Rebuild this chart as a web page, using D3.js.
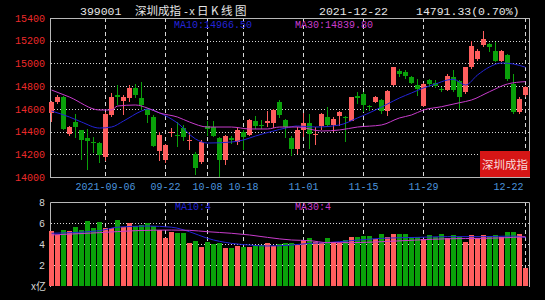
<!DOCTYPE html>
<html>
<head>
<meta charset="utf-8">
<script src="https://cdn.jsdelivr.net/npm/d3@7"></script>
<style>
  body { margin: 0; background: #000; }
  svg { display: block; }
  text { font-family: "Liberation Mono", "DejaVu Sans Mono", monospace; }
  .cjk { font-family: "Noto Sans CJK SC", sans-serif; }
</style>
</head>
<body>
<svg id="kline" width="545" height="300"></svg>
<script>
// daily candles, 2021-08-24 .. 2021-12-22 (index 0..79)
const opens = [14562,14658,14701,14382,14484,14411,14339,14310,14301,14180,
  14546,14721,14672,14692,14780,14692,14596,14531,14225,14146,
  14390,14371,14430,14320,14199,14131,14450,14438,14345,14146,
  14340,14307,14395,14366,14497,14460,14474,14474,14658,14503,
  14345,14248,14415,14474,14370,14453,14527,14462,14533,14527,
  14497,14710,14731,14625,14658,14679,14579,14806,14936,14922,
  14884,14810,14629,14855,14830,14775,14767,14878,14849,14746,
  14966,15039,15165,15170,15112,15024,15077,14819,14570,14726];
const highs = [14672,14725,14716,14446,14551,14418,14426,14353,14310,14571,
  14736,14809,14721,14809,14823,14838,14604,14546,14400,14292,
  14429,14480,14462,14395,14219,14322,14491,14491,14351,14366,
  14360,14438,14410,14512,14541,14503,14585,14600,14679,14512,
  14357,14438,14562,14556,14438,14562,14615,14527,14585,14533,
  14708,14746,14746,14638,14717,14687,14767,14972,14951,14942,
  14893,14863,14825,14863,14850,14790,14907,14942,14855,14972,
  15200,15127,15288,15179,15185,15118,15083,14907,14702,14797];
const lows = [14484,14643,14417,14362,14339,14150,14064,14209,14122,14145,
  14531,14634,14546,14663,14692,14590,14473,14263,14137,14123,
  14356,14260,14316,14234,14014,14117,14357,14351,14000,14102,
  14290,14278,14234,14357,14424,14420,14438,14430,14521,14345,
  14181,14199,14351,14248,14278,14410,14439,14395,14453,14307,
  14491,14644,14570,14585,14650,14556,14541,14797,14878,14863,
  14819,14709,14620,14790,14780,14750,14761,14746,14600,14732,
  14951,15024,15141,15097,15009,15009,14849,14556,14556,14708];
const closes = [14664,14707,14426,14440,14440,14324,14319,14300,14194,14556,
  14707,14706,14707,14780,14721,14634,14546,14269,14371,14283,
  14400,14360,14350,14330,14081,14307,14424,14365,14146,14357,
  14325,14415,14351,14503,14453,14445,14497,14594,14550,14439,
  14248,14415,14474,14380,14380,14556,14462,14512,14570,14520,
  14702,14700,14638,14615,14708,14579,14755,14966,14907,14893,
  14825,14775,14819,14819,14800,14766,14893,14767,14702,14966,
  15156,15112,15215,15147,15024,15112,14863,14570,14687,14791];
// volume, 亿
const volumes = [5.24,4.86,5.33,5.24,5.65,5.33,6.19,5.49,6.10,5.56,
  5.49,6.29,5.65,5.97,5.71,5.81,5.97,5.75,5.33,4.54,
  5.17,5.08,5.08,4.06,4.32,3.75,4.22,4.00,4.06,3.59,
  3.59,3.81,3.75,3.68,3.90,3.90,4.06,3.81,4.00,4.13,
  4.06,3.90,4.38,4.60,4.22,4.06,4.60,4.22,4.06,4.38,
  4.70,4.70,4.79,4.79,4.44,4.95,4.63,4.95,4.92,4.92,
  4.70,4.63,4.44,4.86,4.70,4.95,4.60,4.86,4.70,4.22,
  4.86,4.54,4.86,4.76,4.86,4.70,5.17,5.17,4.95,1.68];

// moving averages (candle index, value)
const ma10Idx = [0,3,5,8,10,12,15,16,18,21,24,26,30,32,34,37,39,41,44,48,51,54,56,58,60,62,64,66,67,69,71,73,75,77,79];
const ma10Val = [14581,14528,14484,14431,14440,14493,14581,14599,14564,14475,14335,14299,14308,14326,14361,14405,14431,14449,14440,14458,14520,14590,14643,14696,14740,14784,14819,14854,14860,14810,14898,14969,15004,14995,14966.5];
const ma30Idx = [0,3,8,10,11,14,16,18,21,23,26,30,33,36,38,41,45,48,51,55,58,60,62,65,68,70,73,76,79];
const ma30Val = [14766,14704,14590,14590,14625,14634,14607,14564,14528,14484,14440,14440,14423,14423,14440,14440,14405,14414,14440,14458,14520,14546,14590,14619,14654,14678,14751,14819,14839.8];
const volMa10Idx = [0,8,11,16,20,23,26,30,33,36,40,43,46,50,55,61,66,72,77,79];
const volMa10Val = [5.02,5.27,5.6,5.71,5.6,5.17,4.54,4.06,3.9,3.81,3.9,4.06,4.13,4.32,4.54,4.63,4.7,4.7,4.76,4.6];
const volMa30Idx = [0,8,14,20,23,26,30,33,36,40,43,46,50,55,61,66,72,77,79];
const volMa30Val = [4.86,5.08,5.27,5.33,5.3,5.17,5.02,4.86,4.63,4.38,4.32,4.13,4.13,4.22,4.38,4.5,4.54,4.63,4.7];

const priceTicks = [14000,14200,14400,14600,14800,15000,15200,15400];
const volTicks = [2,4,6,8];
const dateIdx = [9,19,26,32,42,52,62,79];
const dateLabels = ['2021-09-06','09-22','10-08','10-18','11-01','11-15','11-29','12-22'];

const UP = '#ff5e5e', DOWN = '#0aa00a';
const BLUE = '#2424d8', PINK = '#c83ccc';

const svg = d3.select('#kline');
svg.append('rect').attr('width', 545).attr('height', 300).attr('fill', '#000');

let x = d3.scaleBand().domain(d3.range(closes.length))
    .range([48.5, 528.5]).paddingInner(1/6).paddingOuter(1/12);
let cx = i => x(i) + x.bandwidth() / 2;
let y = d3.scaleLinear().domain([14000, 15400]).range([177, 18]);
let yv = d3.scaleLinear().domain([0, 8]).range([286, 202]);

// grid lines
let grid = svg.append('g');
grid.selectAll('.hg').data(priceTicks.slice(1, -1)).enter().append('line')
    .attr('x1', 51).attr('x2', 529)
    .attr('y1', d => Math.round(y(d)) + 0.5).attr('y2', d => Math.round(y(d)) + 0.5)
    .attr('stroke', '#d8d8d8').attr('stroke-dasharray', '1,2');
grid.selectAll('.vg').data(volTicks.slice(0, -1)).enter().append('line')
    .attr('x1', 51).attr('x2', 529)
    .attr('y1', d => Math.round(yv(d)) + 0.5).attr('y2', d => Math.round(yv(d)) + 0.5)
    .attr('stroke', '#d8d8d8').attr('stroke-dasharray', '1,2');
[[18, 177], [202, 286]].forEach(([t, b]) => {
    grid.append('g').selectAll('line').data(dateIdx).enter().append('line')
        .attr('x1', d => Math.floor(cx(d)) + 0.5).attr('x2', d => Math.floor(cx(d)) + 0.5)
        .attr('y1', t).attr('y2', b)
        .attr('stroke', '#d8d8d8').attr('stroke-dasharray', '4,3');
});

// frames
svg.append('rect').attr('x', 50.5).attr('y', 18.5).attr('width', 479).attr('height', 159)
    .attr('fill', 'none').attr('stroke', '#b8b8b8');
svg.append('path').attr('d', 'M50.5,287V202.5H529.5V287')
    .attr('fill', 'none').attr('stroke', '#b8b8b8');

// candles
let candles = svg.append('g').attr('shape-rendering', 'crispEdges')
    .selectAll('g').data(d3.range(closes.length)).enter().append('g')
    .attr('fill', i => closes[i] >= opens[i] ? UP : DOWN);
candles.append('rect')
    .attr('x', i => Math.floor(cx(i))).attr('width', 1)
    .attr('y', i => y(highs[i])).attr('height', i => y(lows[i]) - y(highs[i]));
candles.append('rect')
    .attr('x', i => x(i)).attr('width', x.bandwidth())
    .attr('y', i => y(Math.max(opens[i], closes[i])))
    .attr('height', i => Math.max(1, Math.abs(y(opens[i]) - y(closes[i]))));

// volume bars
svg.append('g').attr('shape-rendering', 'crispEdges')
    .selectAll('rect').data(volumes).enter().append('rect')
    .attr('x', (d, i) => x(i)).attr('width', x.bandwidth())
    .attr('y', d => yv(d)).attr('height', d => 286 - yv(d))
    .attr('fill', (d, i) => closes[i] >= opens[i] ? UP : DOWN);

// MA lines
function maLine(idx, vals, scale, color) {
    let line = d3.line().x(d => cx(d[0])).y(d => scale(d[1])).curve(d3.curveMonotoneX);
    svg.append('path').datum(d3.zip(idx, vals))
        .attr('d', line).attr('fill', 'none').attr('stroke', color).attr('stroke-width', 1);
}
maLine(ma10Idx, ma10Val, y, BLUE);
maLine(ma30Idx, ma30Val, y, PINK);
maLine(volMa10Idx, volMa10Val, yv, BLUE);
maLine(volMa30Idx, volMa30Val, yv, PINK);

// axes
let yAxis = svg.append('g').attr('transform', 'translate(50,0)')
    .call(d3.axisLeft(y).tickValues(priceTicks).tickFormat(d3.format('d')).tickSize(0).tickPadding(5));
let vAxis = svg.append('g').attr('transform', 'translate(50,0)')
    .call(d3.axisLeft(yv).tickValues(volTicks).tickSize(0).tickPadding(5));
let xAxis = svg.append('g').attr('transform', 'translate(0,177)')
    .call(d3.axisBottom(x).tickValues(dateIdx).tickFormat((d, k) => dateLabels[k]).tickSize(0).tickPadding(6));
[yAxis, vAxis, xAxis].forEach(a => {
    a.select('.domain').remove();
    a.selectAll('text').attr('font-family', null).attr('font-size', 10);
});
yAxis.selectAll('text').attr('fill', '#ec2a2a');
vAxis.selectAll('text').attr('fill', '#d4d4d4');
xAxis.selectAll('text').attr('fill', '#4a94dc');
xAxis.selectAll('text').filter((d, k) => k === dateIdx.length - 1)
    .attr('text-anchor', 'end').attr('x', -2);

svg.append('text').attr('class', 'cjk').attr('x', 46).attr('y', 290)
    .attr('text-anchor', 'end').attr('font-size', 10).attr('fill', '#d4d4d4').text('x亿');

// header
let head = svg.append('g').attr('fill', '#e6e6e6').attr('font-size', 11.5);
head.append('text').attr('x', 80).attr('y', 15).text('399001');
head.append('text').attr('class', 'cjk').attr('x', 135).attr('y', 15).text('深圳成指');
head.append('text').attr('x', 183).attr('y', 15).attr('font-size', 10).text('-x');
head.append('text').attr('class', 'cjk').attr('x', 197).attr('y', 15)
    .attr('letter-spacing', 2.5).text('日K线图');
head.append('text').attr('x', 319).attr('y', 15).text('2021-12-22');
head.append('text').attr('x', 416).attr('y', 15).text('14791.33(0.70%)');

svg.append('text').attr('x', 174).attr('y', 28).attr('font-size', 10).attr('fill', BLUE)
    .text('MA10:' + ma10Val[ma10Val.length - 1].toFixed(2));
svg.append('text').attr('x', 295).attr('y', 28).attr('font-size', 10).attr('fill', PINK)
    .text('MA30:' + ma30Val[ma30Val.length - 1].toFixed(2));
svg.append('text').attr('x', 175).attr('y', 210).attr('font-size', 10).attr('fill', BLUE)
    .text('MA10:' + Math.floor(volMa10Val[volMa10Val.length - 1]));
svg.append('text').attr('x', 295).attr('y', 210).attr('font-size', 10).attr('fill', PINK)
    .text('MA30:' + Math.floor(volMa30Val[volMa30Val.length - 1]));

// index name badge
svg.append('rect').attr('x', 480).attr('y', 151).attr('width', 50).attr('height', 26).attr('fill', '#d61616');
svg.append('text').attr('class', 'cjk').attr('x', 505).attr('y', 168.5)
    .attr('text-anchor', 'middle').attr('font-size', 11.5).attr('fill', '#f6dede').text('深圳成指');
</script>
</body>
</html>
